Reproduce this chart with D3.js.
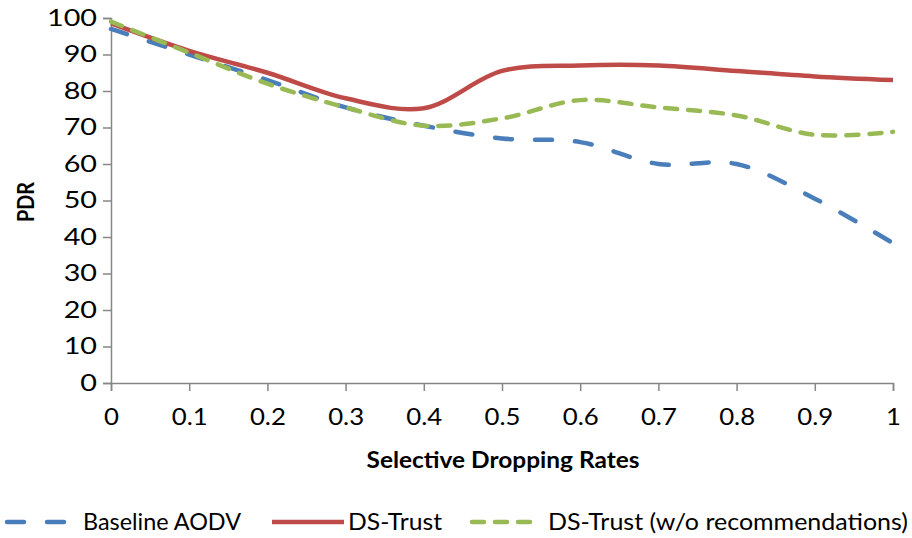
<!DOCTYPE html>
<html>
<head>
<meta charset="utf-8">
<script src="https://cdn.jsdelivr.net/npm/d3@7"></script>
<style>
  body { margin: 0; background: #fff; }
  text { font-family: Lato, "Open Sans", sans-serif; fill: #000; }
</style>
</head>
<body>
<div id="chart"></div>
<script>
const MARGIN = { top: 18, right: 19, bottom: 155, left: 111 };
const WIDTH = 912 - MARGIN.left - MARGIN.right;
const HEIGHT = 538 - MARGIN.top - MARGIN.bottom;

// DATA
const rates = [0, 0.1, 0.2, 0.3, 0.4, 0.5, 0.6, 0.7, 0.8, 0.9, 1];
const baselineAodv = [97, 90, 83, 75.5, 70.5, 67, 66, 60, 60, 50.5, 38.3];
const dsTrust = [98.5, 91, 85, 78, 75.3, 85.5, 87, 87, 85.5, 84, 83];
const dsTrustNoRec = [99, 90.5, 82, 75.5, 70.5, 72.5, 77.5, 75.5, 73.3, 68, 68.8];
const yTicks = [0, 10, 20, 30, 40, 50, 60, 70, 80, 90, 100];

const series = [
  { name: "Baseline AODV", values: baselineAodv, color: "#4a7ebb", dash: "17,23" },
  { name: "DS-Trust", values: dsTrust, color: "#be4b48", dash: null },
  { name: "DS-Trust (w/o recommendations)", values: dsTrustNoRec, color: "#98b954", dash: "12,11" }
];

// stretch text sideways a bit, the original is wider than tall
function stretch(sel, k) {
  sel.each(function () {
    const len = this.getComputedTextLength();
    d3.select(this).attr("textLength", len * k).attr("lengthAdjust", "spacingAndGlyphs");
  });
}

// CREATE SVG
const root = d3.select("#chart").append("svg")
  .attr("width", 912).attr("height", 538);
const svg = root.append("g")
  .attr("transform", `translate(${MARGIN.left}, ${MARGIN.top})`);

// SCALES + AXES
const x = d3.scaleLinear().domain([0, 1]).range([0, WIDTH]);
const y = d3.scaleLinear().domain([0, 100]).range([HEIGHT, 0]);

const xAxis = svg.append("g")
  .attr("transform", `translate(0, ${HEIGHT})`)
  .call(d3.axisBottom(x).tickValues(rates).tickSize(8).tickPadding(18)
    .tickFormat(d => d === 0 || d === 1 ? d : d3.format(".1f")(d)));
const yAxis = svg.append("g")
  .call(d3.axisLeft(y).tickValues(yTicks).tickSize(8).tickPadding(6));

[xAxis, yAxis].forEach(a => {
  a.select(".domain").attr("stroke", "#868686").attr("stroke-width", 1.5);
  a.selectAll(".tick line").attr("stroke", "#868686").attr("stroke-width", 1.5);
  a.selectAll(".tick text").attr("font-size", 23).attr("fill", "#000")
    .attr("font-family", "Lato, sans-serif");
});
stretch(xAxis.selectAll(".tick text"), 1.12);
stretch(yAxis.selectAll(".tick text"), 1.25);

// LINES
const line = d3.line()
  .x((d, i) => x(rates[i]))
  .y(d => y(d))
  .curve(d3.curveCatmullRom.alpha(0.5));

series.forEach(s => {
  svg.append("path")
    .datum(s.values)
    .attr("fill", "none")
    .attr("stroke", s.color)
    .attr("stroke-width", 4.5)
    .attr("stroke-linecap", s.dash ? "round" : "butt")
    .attr("stroke-dasharray", s.dash)
    .attr("d", line);
});

// AXIS TITLES
root.append("text")
  .attr("transform", "translate(34, 202) rotate(-90)")
  .attr("text-anchor", "middle")
  .attr("font-size", 22).attr("font-weight", "bold")
  .attr("textLength", 40).attr("lengthAdjust", "spacingAndGlyphs")
  .text("PDR");

root.append("text")
  .attr("x", 503).attr("y", 468)
  .attr("text-anchor", "middle")
  .attr("font-size", 22).attr("font-weight", "bold")
  .attr("textLength", 273).attr("lengthAdjust", "spacingAndGlyphs")
  .text("Selective Dropping Rates");

// LEGEND
const legendPos = [
  { sx: 7, ex: 64, tx: 83, w: 158 },
  { sx: 272, ex: 344, tx: 348, w: 94 },
  { sx: 472, ex: 530, tx: 548, w: 360 }
];
series.forEach((s, i) => {
  const p = legendPos[i];
  root.append("line")
    .attr("x1", p.sx).attr("x2", p.ex)
    .attr("y1", 522).attr("y2", 522)
    .attr("stroke", s.color).attr("stroke-width", 4.5)
    .attr("stroke-linecap", s.dash ? "round" : "butt")
    .attr("stroke-dasharray", s.dash);
  root.append("text")
    .attr("x", p.tx).attr("y", 530)
    .attr("font-size", 23)
    .attr("textLength", p.w).attr("lengthAdjust", "spacingAndGlyphs")
    .text(s.name);
});
</script>
</body>
</html>
